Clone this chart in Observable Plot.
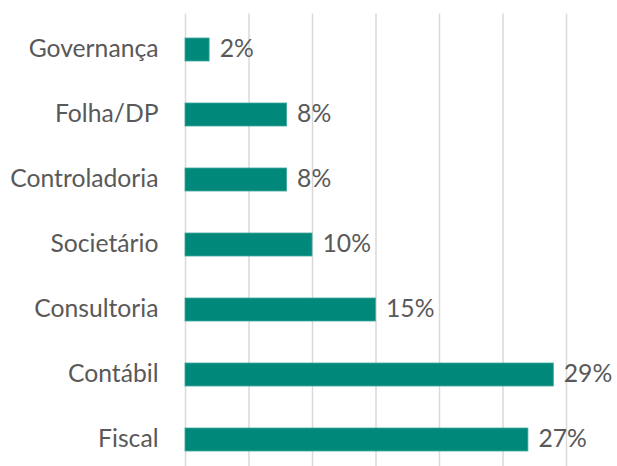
<!DOCTYPE html>
<html>
<head>
<meta charset="utf-8">
<script src="https://cdn.jsdelivr.net/npm/d3@7"></script>
<script src="https://cdn.jsdelivr.net/npm/@observablehq/plot@0.6"></script>
<style>
  html, body { margin: 0; padding: 0; background: #fff; overflow: hidden; }
  #chart svg { display: block; }
</style>
</head>
<body>
<div id="chart"></div>
<script>
const categories = ["Governança", "Folha/DP", "Controladoria", "Societário", "Consultoria", "Contábil", "Fiscal"];
const values = [1.9, 8, 8, 10, 15, 29, 27];
const valueLabels = ["2%", "8%", "8%", "10%", "15%", "29%", "27%"];
const gridTicks = [0, 5, 10, 15, 20, 25, 30];

const data = categories.map((c, i) => ({category: c, value: values[i], label: valueLabels[i]}));

const font = "Lato, 'Open Sans', sans-serif";
const chart = Plot.plot({
  width: 617,
  height: 475,
  marginLeft: 185,
  marginRight: 51,
  marginTop: 13.6,
  marginBottom: 0.8,
  style: {fontFamily: font, fontSize: "24.7px", color: "#595959", background: "white"},
  x: {domain: [0, 30], axis: null},
  y: {domain: categories, paddingInner: 0.65, paddingOuter: 0.325, label: null},
  marks: [
    Plot.ruleX(gridTicks, {stroke: "#d9d9d9", strokeWidth: 1.5}),
    Plot.barX(data, {y: "category", x: "value", fill: "#00897b", stroke: "#3fa99c", strokeWidth: 0.8}),
    Plot.text(data, {y: "category", x: "value", text: "label", textAnchor: "start", dx: 10, dy: -1, fill: "#595959", fontSize: 24.7}),
    Plot.axisY({tickSize: 0, tickPadding: 27, dy: -1, fontSize: 24.7, label: null, fill: "#595959"})
  ]
});
document.getElementById("chart").append(chart);
</script>
</body>
</html>
